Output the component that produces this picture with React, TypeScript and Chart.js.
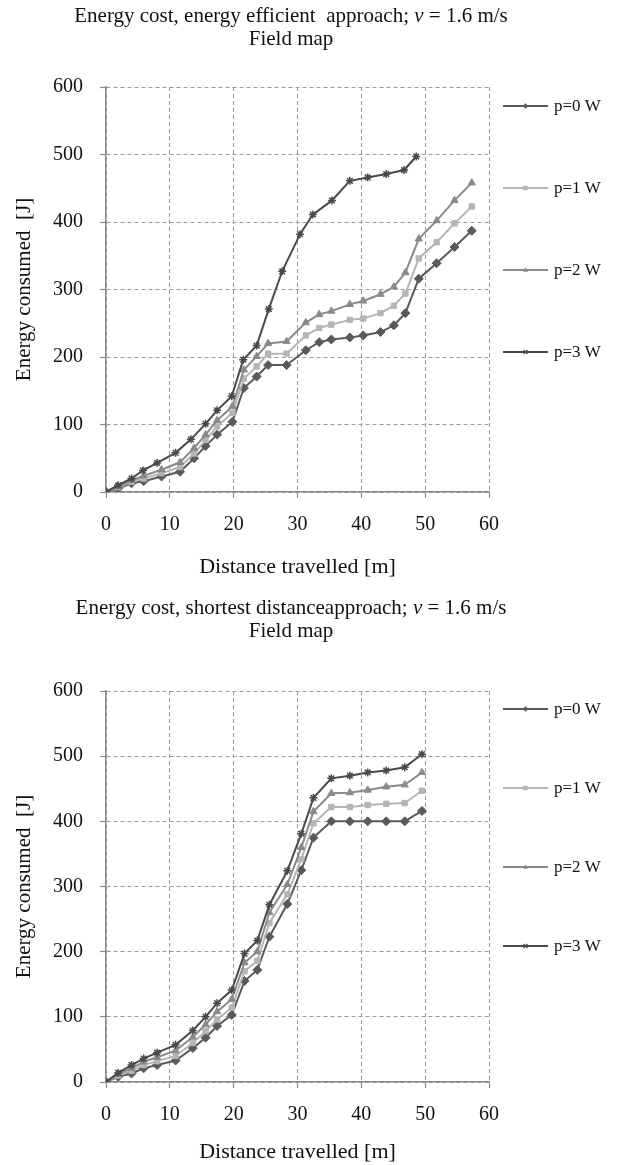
import React, { useEffect, useRef } from 'react';
import { Chart, registerables } from 'chart.js';

Chart.register(...registerables);

// ---------- data ----------
const seriesLabels = ['p=0 W', 'p=1 W', 'p=2 W', 'p=3 W'];
const xTickValues = [0, 10, 20, 30, 40, 50, 60];
const yTickValues = [0, 100, 200, 300, 400, 500, 600];

// Chart 1: energy efficient approach (p=0,1,2 share a route; p=3 differs)
const effRouteX = [0, 1.9, 4, 5.9, 8.7, 11.6, 13.8, 15.6, 17.4, 19.8, 21.6, 23.6, 25.4, 28.3, 31.3, 33.4, 35.3, 38.2, 40.3, 43, 45.1, 46.9, 49, 51.8, 54.6, 57.3];
const effP0 = [0, 5, 13, 16, 23, 30, 50, 68, 85, 104, 154, 171, 188, 188, 210, 222, 226, 229, 232, 237, 247, 265, 316, 339, 363, 387];
const effP1 = [0, 7, 15, 20, 28, 37, 57, 77, 97, 117, 168, 186, 205, 205, 232, 243, 248, 255, 257, 265, 276, 294, 346, 370, 398, 423];
const effP2 = [0, 8, 17, 24, 33, 44, 65, 85, 106, 127, 181, 201, 220, 223, 251, 263, 268, 278, 283, 293, 304, 325, 375, 402, 432, 458];
const effP3X = [0, 1.9, 4, 5.8, 8, 10.9, 13.3, 15.6, 17.4, 19.7, 21.5, 23.6, 25.5, 27.6, 30.4, 32.4, 35.4, 38.2, 41, 43.9, 46.7, 48.6];
const effP3 = [0, 10, 20, 32, 43, 58, 78, 101, 121, 142, 196, 217, 271, 327, 382, 411, 432, 461, 466, 471, 477, 497];

// Chart 2: shortest distance approach (all share one route)
const shortRouteX = [0, 1.9, 4, 5.9, 8, 10.9, 13.6, 15.6, 17.4, 19.7, 21.7, 23.7, 25.6, 28.4, 30.6, 32.5, 35.3, 38.2, 41, 43.9, 46.8, 49.5];
const shortP0 = [0, 8, 13, 21, 26, 33, 52, 68, 86, 103, 155, 172, 223, 273, 325, 375, 400, 400, 400, 400, 400, 416];
const shortP1 = [0, 10, 17, 26, 32, 40, 60, 78, 96, 114, 170, 186, 244, 288, 342, 397, 422, 422, 425, 427, 428, 447];
const shortP2 = [0, 12, 21, 31, 38, 48, 69, 88, 108, 127, 183, 200, 260, 303, 360, 415, 443, 444, 448, 453, 456, 475];
const shortP3 = [0, 14, 26, 36, 45, 57, 79, 100, 121, 141, 197, 217, 272, 324, 381, 436, 466, 470, 475, 478, 483, 503];

const titleEff = ['Energy cost, energy efficient  approach; ', 'v', ' = 1.6 m/s'];
const titleShort = ['Energy cost, shortest distanceapproach; ', 'v', ' = 1.6 m/s'];
const subTitle = 'Field map';
const xTitle = 'Distance travelled [m]';
const yTitle = 'Energy consumed  [J]';

// ---------- styles ----------
const FONT = "'Liberation Serif', 'Times New Roman', serif";
const colors = ['#5a5a5a', '#b5b5b5', '#8a8a8a', '#4a4a4a'];
const styles = ['rectRot', 'rect', 'triangle', 'star'];
const radii = [4.5, 3.8, 4.2, 4];

function drawMarker(ctx: CanvasRenderingContext2D, style: string, x: number, y: number, r: number, color: string) {
  ctx.save();
  ctx.fillStyle = color;
  ctx.strokeStyle = color;
  ctx.lineWidth = 1.2;
  ctx.beginPath();
  if (style === 'rectRot') {
    ctx.moveTo(x, y - r); ctx.lineTo(x + r, y); ctx.lineTo(x, y + r); ctx.lineTo(x - r, y); ctx.closePath(); ctx.fill();
  } else if (style === 'rect') {
    ctx.rect(x - r * 0.8, y - r * 0.8, r * 1.6, r * 1.6); ctx.fill();
  } else if (style === 'triangle') {
    ctx.moveTo(x, y - r); ctx.lineTo(x + r * 0.9, y + r * 0.6); ctx.lineTo(x - r * 0.9, y + r * 0.6); ctx.closePath(); ctx.fill();
  } else {
    ctx.moveTo(x - r, y); ctx.lineTo(x + r, y);
    ctx.moveTo(x - r * 0.7, y - r * 0.7); ctx.lineTo(x + r * 0.7, y + r * 0.7);
    ctx.moveTo(x - r * 0.7, y + r * 0.7); ctx.lineTo(x + r * 0.7, y - r * 0.7);
    ctx.stroke();
  }
  ctx.restore();
}

const sideLegend = {
  id: 'sideLegend',
  afterDraw(chart: any, _args: any, opts: any) {
    const { ctx, chartArea } = chart;
    const x0 = chartArea.right + opts.offsetX;
    chart.data.datasets.forEach((ds: any, i: number) => {
      const y = chartArea.top + opts.firstY + i * opts.gap;
      ctx.save();
      ctx.strokeStyle = ds.borderColor;
      ctx.lineWidth = 2;
      ctx.beginPath();
      ctx.moveTo(x0, y);
      ctx.lineTo(x0 + 45, y);
      ctx.stroke();
      drawMarker(ctx, ds.pointStyle, x0 + 22.5, y, 2.8, ds.borderColor);
      ctx.fillStyle = '#111';
      ctx.font = `17px ${FONT}`;
      ctx.textBaseline = 'middle';
      ctx.textAlign = 'left';
      ctx.fillText(ds.label, x0 + 51, y + 1);
      ctx.restore();
    });
  },
};

const mathTitle = {
  id: 'mathTitle',
  afterDraw(chart: any, _args: any, opts: any) {
    const { ctx } = chart;
    const parts: string[] = opts.parts;
    const size = opts.size;
    const fonts = parts.map((_p, i) => (i === 1 ? `italic ${size}px ${FONT}` : `${size}px ${FONT}`));
    ctx.save();
    ctx.fillStyle = '#111';
    ctx.textBaseline = 'middle';
    ctx.textAlign = 'left';
    const widths = parts.map((p, i) => { ctx.font = fonts[i]; return ctx.measureText(p).width; });
    const total = widths.reduce((a, b) => a + b, 0);
    let x = opts.cx - total / 2;
    parts.forEach((p, i) => { ctx.font = fonts[i]; ctx.fillText(p, x, opts.y1); x += widths[i]; });
    ctx.font = `${size}px ${FONT}`;
    ctx.textAlign = 'center';
    ctx.fillText(opts.sub, opts.cx, opts.y2);
    ctx.restore();
  },
};

type Cfg = {
  xs: number[][];
  ys: number[][];
  title: string[];
  plotTop: number;
  plotBottom: number;
  height: number;
  titleY1: number;
  titleY2: number;
  legendFirst: number;
  legendGap: number;
  xTitlePad: number;
};

function makeChart(canvas: HTMLCanvasElement, c: Cfg) {
  const datasets = seriesLabels.map((label, i) => ({
    label,
    data: c.xs[i].map((x, j) => ({ x, y: c.ys[i][j] })),
    borderColor: colors[i],
    backgroundColor: colors[i],
    borderWidth: 2,
    pointStyle: styles[i],
    pointRadius: radii[i],
    pointBorderWidth: i === 3 ? 1.5 : 1,
    pointBorderColor: colors[i],
    pointBackgroundColor: colors[i],
    showLine: true,
    tension: 0,
    order: 4 - i,
  }));
  return new Chart(canvas, {
    type: 'scatter',
    data: { datasets },
    plugins: [sideLegend, mathTitle],
    options: {
      animation: false,
      responsive: false,
      maintainAspectRatio: false,
      layout: { padding: { top: c.plotTop, right: 129, left: 0, bottom: 0 } },
      plugins: {
        legend: { display: false },
        title: { display: false },
        tooltip: { enabled: false },
        sideLegend: { offsetX: 14, firstY: c.legendFirst, gap: c.legendGap },
        mathTitle: { parts: c.title, sub: subTitle, size: 21, cx: 291, y1: c.titleY1, y2: c.titleY2 },
      } as any,
      scales: {
        x: {
          type: 'linear',
          min: 0,
          max: 60,
          afterBuildTicks: (s: any) => { s.ticks = xTickValues.map((v) => ({ value: v })); },
          afterFit: (s: any) => { s.height = c.height - c.plotBottom; },
          ticks: { color: '#111', font: { family: FONT, size: 20 }, padding: 15, maxRotation: 0 },
          grid: { color: '#9a9a9a', lineWidth: 1, tickLength: 6, tickColor: '#8a8a8a', tickWidth: 1.2 },
          border: { display: true, color: '#8a8a8a', width: 1.5, dash: [4, 3] },
          title: { display: true, text: xTitle, color: '#111', font: { family: FONT, size: 22, lineHeight: 1 }, padding: { top: 0, bottom: c.xTitlePad } },
        },
        y: {
          type: 'linear',
          min: 0,
          max: 600,
          afterBuildTicks: (s: any) => { s.ticks = yTickValues.map((v) => ({ value: v })); },
          afterFit: (s: any) => { s.width = 106; },
          ticks: { color: '#111', font: { family: FONT, size: 20 }, padding: 17 },
          grid: { color: '#9a9a9a', lineWidth: 1, tickLength: 6, tickColor: '#8a8a8a', tickWidth: 1.2 },
          border: { display: true, color: '#8a8a8a', width: 1.5, dash: [4, 3] },
          title: { display: true, text: yTitle, color: '#111', font: { family: FONT, size: 21 }, padding: { top: 12, bottom: 0 } },
        },
      },
    } as any,
  });
}

function ChartBox({ cfg, top }: { cfg: Cfg; top: number }) {
  const ref = useRef<HTMLCanvasElement>(null);
  useEffect(() => {
    if (!ref.current) return;
    const ch = makeChart(ref.current, cfg);
    return () => ch.destroy();
  }, []);
  return (
    <canvas
      ref={ref}
      width={618}
      height={cfg.height}
      style={{ position: 'absolute', left: 0, top, width: 618, height: cfg.height, display: 'block' }}
    />
  );
}

const cfgEff: Cfg = {
  xs: [effRouteX, effRouteX, effRouteX, effP3X],
  ys: [effP0, effP1, effP2, effP3],
  title: titleEff,
  plotTop: 87,
  plotBottom: 492,
  height: 588,
  titleY1: 16,
  titleY2: 39,
  legendFirst: 19,
  legendGap: 82,
  xTitlePad: 10,
};

const cfgShort: Cfg = {
  xs: [shortRouteX, shortRouteX, shortRouteX, shortRouteX],
  ys: [shortP0, shortP1, shortP2, shortP3],
  title: titleShort,
  plotTop: 103,
  plotBottom: 494,
  height: 577,
  titleY1: 20,
  titleY2: 43,
  legendFirst: 18,
  legendGap: 79,
  xTitlePad: 2,
};

export default function App() {
  return (
    <div style={{ position: 'absolute', left: 0, top: 0, width: 618, height: 1165, overflow: 'hidden', background: '#fff' }}>
      <ChartBox cfg={cfgEff} top={0} />
      <ChartBox cfg={cfgShort} top={588} />
    </div>
  );
}
